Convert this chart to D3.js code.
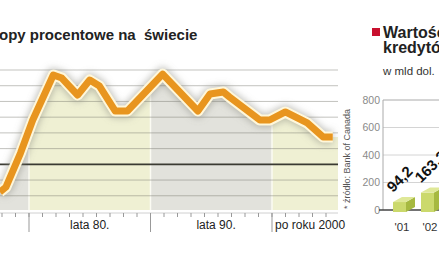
<!DOCTYPE html>
<html>
<head>
<meta charset="utf-8">
<script src="https://cdn.jsdelivr.net/npm/d3@7"></script>
<style>
  body { margin: 0; background: #fff; }
  svg { display: block; font-family: "Liberation Sans", Arial, sans-serif; }
</style>
</head>
<body>
<svg id="chart" width="439" height="268"></svg>
<script>
const svg = d3.select("#chart");

// stopy procentowe - wartosci
const years = [1977.6, 1978.1, 1979.3, 1980.3, 1982.0, 1982.7, 1984.0, 1985.0, 1985.8, 1987.1, 1988.1,
  1991.0, 1993.9, 1994.9, 1996.0, 1996.5, 1999.0, 1999.8, 2001.1, 2002.9, 2004.2, 2005.0];
const rates = [-1.76, -1.45, 0.72, 2.8, 5.68, 5.49, 4.41, 5.36, 4.98, 3.39, 3.39,
  5.74, 3.39, 4.47, 4.6, 4.28, 2.82, 2.82, 3.33, 2.63, 1.74, 1.74];
const gridValues = [-2, -1, 0, 1, 2, 3, 4, 5, 6];
const decadeStarts = [1970, 1980, 1990, 2000];
const decadeEnds = [1980, 1990, 2000, 2005.43];
const decadeLabels = ["", "lata 80.", "lata 90.", "po roku 2000"];
const labelYears = [1975, 1985, 1995.4, 2000.25];

// wartosc kredytow
const barCats = ["'01", "'02"];
const barValues = [94.2, 163.2];
const barValueLabels = ["94,2", "163,2"];
const barTicks = [0, 200, 400, 600, 800];

const plotRight = 338, plotTop = 70, plotBottom = 210;
const x = d3.scaleLinear().domain([1980, 2000]).range([29, 272]);
const y = d3.scaleLinear().domain([-3, 6]).range([211.5, 70]);
const data = years.map((yr, i) => ({ yr, v: rates[i] }));

const defs = svg.append("defs");
defs.append("filter").attr("id", "soft")
  .attr("x", "-20%").attr("y", "-30%").attr("width", "140%").attr("height", "160%")
  .append("feGaussianBlur").attr("stdDeviation", 3.5);

const areaPts = data.concat([{ yr: x.invert(plotRight), v: rates[rates.length - 1] }]);
defs.append("clipPath").attr("id", "under").append("path")
  .attr("d", d3.area().x(d => x(d.yr)).y0(plotBottom).y1(d => y(d.v))(areaPts));

// tla dekad pod linia
const bandG = svg.append("g").attr("clip-path", "url(#under)");
decadeStarts.forEach((s, i) => {
  const x0 = Math.max(0, x(s)), x1 = x(decadeEnds[i]);
  bandG.append("rect")
    .attr("x", x0).attr("y", plotTop - 20)
    .attr("width", x1 - x0).attr("height", plotBottom - plotTop + 20)
    .attr("fill", i % 2 ? "#eff0d3" : "#e2e2dc");
});
decadeStarts.slice(1).forEach(s => {
  bandG.append("line")
    .attr("x1", x(s)).attr("x2", x(s))
    .attr("y1", plotTop - 20).attr("y2", plotBottom)
    .attr("stroke", "#fbfbf3").attr("stroke-width", 1.5);
});

// linie siatki
gridValues.forEach(v => {
  svg.append("line")
    .attr("x1", 0).attr("x2", plotRight)
    .attr("y1", y(v)).attr("y2", y(v))
    .attr("stroke", v === 0 ? "#3a3a32" : "rgba(110,110,100,0.42)")
    .attr("stroke-width", v === 0 ? 1.6 : 1);
});

// os x
svg.append("line")
  .attr("x1", 0).attr("x2", plotRight).attr("y1", 213).attr("y2", 213)
  .attr("stroke", "#d0d0d0");
const minor = d3.range(-3, 24).map(k => 1980 + k * 10 / 9)
  .filter(t => x(t) >= 0 && x(t) <= plotRight);
svg.selectAll(".minor").data(minor).enter().append("line")
  .attr("x1", d => x(d)).attr("x2", d => x(d))
  .attr("y1", 213).attr("y2", 217)
  .attr("stroke", "#999");
svg.selectAll(".major").data(decadeStarts.slice(1)).enter().append("line")
  .attr("x1", d => x(d)).attr("x2", d => x(d))
  .attr("y1", 213).attr("y2", 232)
  .attr("stroke", "#999");
decadeLabels.forEach((t, i) => {
  if (!t) return;
  svg.append("text")
    .attr("x", x(labelYears[i]))
    .attr("y", 229)
    .attr("text-anchor", i === 3 ? "start" : "middle")
    .attr("font-size", 12)
    .attr("fill", "#222")
    .text(t);
});

// linia stop procentowych
const line = d3.line().x(d => x(d.yr)).y(d => y(d.v));
svg.append("path").datum(data)
  .attr("d", line).attr("fill", "none")
  .attr("stroke", "#8a8a80").attr("stroke-opacity", 0.5)
  .attr("stroke-width", 14).attr("stroke-linejoin", "round")
  .attr("filter", "url(#soft)");
svg.append("path").datum(data)
  .attr("d", line).attr("fill", "none")
  .attr("stroke", "#fff7da").attr("stroke-width", 11)
  .attr("stroke-linejoin", "round");
svg.append("path").datum(data)
  .attr("d", line).attr("fill", "none")
  .attr("stroke", "#e8951f").attr("stroke-width", 7)
  .attr("stroke-linejoin", "round");

// tytul
svg.append("text")
  .attr("x", -1).attr("y", 40)
  .attr("font-size", 15).attr("font-weight", "bold")
  .attr("fill", "#222")
  .style("white-space", "pre")
  .text("opy procentowe na  świecie");

// zrodlo
svg.append("text")
  .attr("transform", "translate(350,209) rotate(-90)")
  .attr("font-size", 9).attr("fill", "#555")
  .text("* źródło: Bank of Canada");

// prawy panel
svg.append("rect").attr("x", 372).attr("y", 28).attr("width", 8).attr("height", 8).attr("fill", "#c8102e");
svg.append("text").attr("x", 383).attr("y", 38)
  .attr("font-size", 16).attr("font-weight", "bold").attr("fill", "#222").text("Wartość");
svg.append("text").attr("x", 383).attr("y", 53)
  .attr("font-size", 16).attr("font-weight", "bold").attr("fill", "#222").text("kredytów");
svg.append("text").attr("x", 383).attr("y", 75)
  .attr("font-size", 11.5).attr("fill", "#333").text("w mld dol.");

const yb = d3.scaleLinear().domain([0, 800]).range([210, 100]);
const xb = d3.scalePoint().domain(barCats).range([402, 430]);

barTicks.forEach(t => {
  if (t > 0) {
    svg.append("line")
      .attr("x1", 383).attr("x2", 439).attr("y1", yb(t)).attr("y2", yb(t))
      .attr("stroke", t === 800 ? "#aaa" : "#d4d4d4");
  }
  svg.append("text")
    .attr("x", 380).attr("y", yb(t) + 3.5)
    .attr("text-anchor", "end")
    .attr("font-size", 10.5).attr("fill", "#8a8a8a")
    .text(t);
});
svg.append("line").attr("x1", 383).attr("x2", 383).attr("y1", yb(800)).attr("y2", yb(0))
  .attr("stroke", "#aaa");
svg.append("line").attr("x1", 379).attr("x2", 439).attr("y1", yb(0)).attr("y2", yb(0))
  .attr("stroke", "#444").attr("stroke-width", 1.5);

barCats.forEach((c, i) => {
  const cx = xb(c), fw = 13, dx = 9, dy = 5;
  const fx0 = cx - 9;
  const ytop = yb(barValues[i]) + dy, ybot = yb(0) + 2;
  svg.append("rect")
    .attr("x", fx0).attr("y", ytop).attr("width", fw).attr("height", ybot - ytop)
    .attr("fill", "#cbd96c");
  svg.append("polygon")
    .attr("points", [[fx0 + fw, ytop], [fx0 + fw + dx, ytop - dy], [fx0 + fw + dx, ybot - dy], [fx0 + fw, ybot]].join(" "))
    .attr("fill", "#a6b940");
  svg.append("polygon")
    .attr("points", [[fx0, ytop], [fx0 + dx, ytop - dy], [fx0 + fw + dx, ytop - dy], [fx0 + fw, ytop]].join(" "))
    .attr("fill", "#dfe898");
  svg.append("text")
    .attr("transform", `translate(${fx0},${yb(barValues[i]) - 4}) rotate(-45)`)
    .attr("font-size", 15).attr("font-weight", "bold").attr("fill", "#111")
    .text(barValueLabels[i]);
  svg.append("text")
    .attr("x", cx).attr("y", 231)
    .attr("text-anchor", "middle")
    .attr("font-size", 11.5).attr("fill", "#333")
    .text(c);
});
</script>
</body>
</html>
